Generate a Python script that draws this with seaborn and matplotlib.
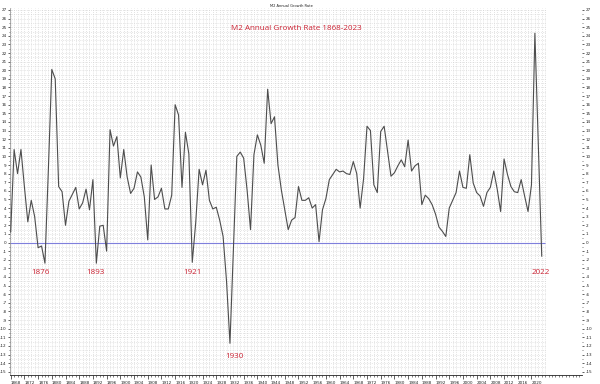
import numpy as np
import pandas as pd
import matplotlib
matplotlib.use("Agg")
import matplotlib.pyplot as plt
import seaborn as sns
from matplotlib.ticker import FixedLocator, MultipleLocator

# ---------------- data ----------------
years = list(range(1868, 2024))
growth = [
    1.2, 10.8, 8.0, 10.8, 6.5, 2.4, 4.9, 3.0, -0.6, -0.4,      # 1868-1877
    -2.4, 8.5, 20.1, 19.0, 6.5, 5.9, 2.0, 4.8, 5.6, 6.4,       # 1878-1887
    3.9, 4.6, 6.2, 3.8, 7.3, -2.4, 1.9, 2.0, -1.0, 13.1,       # 1888-1897
    11.2, 12.3, 7.5, 10.8, 7.6, 5.7, 6.3, 8.2, 7.6, 5.3,       # 1898-1907
    0.3, 9.0, 5.0, 5.3, 6.3, 3.9, 3.9, 5.5, 16.0, 14.8,        # 1908-1917
    6.4, 12.8, 10.3, -2.3, 2.3, 8.5, 6.7, 8.4, 4.9, 3.9,       # 1918-1927
    4.1, 2.6, 0.7, -4.5, -11.7, -1.0, 10.0, 10.5, 9.8, 6.1,    # 1928-1937
    1.5, 10.2, 12.5, 11.3, 9.2, 17.8, 13.8, 14.6, 9.0, 6.1,    # 1938-1947
    3.8, 1.5, 2.6, 2.9, 6.5, 4.9, 4.9, 5.2, 4.0, 4.4,          # 1948-1957
    0.1, 3.8, 5.1, 7.3, 7.9, 8.5, 8.2, 8.3, 8.0, 7.9,          # 1958-1967
    9.4, 8.0, 4.0, 7.4, 13.5, 13.0, 6.7, 5.8, 12.9, 13.5,      # 1968-1977
    10.6, 7.7, 8.1, 8.9, 9.6, 8.8, 11.9, 8.3, 8.9, 9.2,        # 1978-1987
    4.4, 5.5, 5.1, 4.4, 3.3, 1.8, 1.3, 0.7, 4.0, 4.9,          # 1988-1997
    5.8, 8.3, 6.4, 6.3, 10.2, 6.9, 5.8, 5.4, 4.2, 5.8,         # 1998-2007
    6.4, 8.3, 6.2, 3.6, 9.7, 7.9, 6.5, 5.9, 5.8, 7.3,          # 2008-2017
    5.4, 3.6, 6.7, 24.3, 11.4, -1.6,                           # 2018-2023
]
tick_years = list(range(1868, 2024, 4))
ytick_vals = list(range(-15, 28))
title_small = "M2 Annual Growth Rate"
title_red = "M2 Annual Growth Rate 1868-2023"
ann_labels = ["1876", "1893", "1921", "1930", "2022"]
ann_x = [1876.7, 1892.9, 1921.2, 1933.2, 2022.6]
ann_y = [-3.5, -3.5, -3.5, -13.2, -3.5]

df = pd.DataFrame({"year": years, "growth": growth})

# ---------------- style ----------------
sns.set_theme(style="white")
plt.rcParams["font.family"] = ["DejaVu Sans"]

RED = "#cc2233"
GRID = "#c8c8c8"

fig = plt.figure(figsize=(6, 3.84), dpi=100)
fig.patch.set_facecolor("white")
ax = fig.add_axes([10 / 600, 9 / 384, 572 / 600, 367 / 384])
ax.set_facecolor("white")

x0, x1 = 1867.8, 2034.75
y0, y1 = -15.38, 27.23
ax.set_xlim(x0, x1)
ax.set_ylim(y0, y1)

grid_end = 2024.0
ax.vlines(np.arange(1868, 2025), y0, y1, colors=GRID,
          linestyles=(0, (1, 2)), linewidth=0.5, zorder=0)
ax.hlines(np.arange(-15, 27.5, 0.5), x0, grid_end, colors=GRID,
          linestyles=(0, (1, 2)), linewidth=0.45, zorder=0)
ax.hlines(0, x0, grid_end, colors="#7f7fdc", linewidth=0.8, zorder=1)

sns.lineplot(data=df, x="year", y="growth", ax=ax, color="#4d4d4d",
             linewidth=0.8, zorder=3)
ax.set_xlabel("")
ax.set_ylabel("")

# ticks
ax.xaxis.set_major_locator(FixedLocator(tick_years))
ax.xaxis.set_minor_locator(MultipleLocator(1))
ax.set_xticklabels([str(t) for t in tick_years], fontsize=3, ha="left")
ax.yaxis.set_major_locator(FixedLocator(ytick_vals))
ax.yaxis.set_minor_locator(MultipleLocator(0.5))
ax.set_yticklabels([str(v) for v in ytick_vals], fontsize=3)
ax.tick_params(axis="x", which="major", direction="out", length=3, width=0.5,
               pad=1, colors="#222222", bottom=True)
ax.tick_params(axis="x", which="minor", direction="out", length=1.5, width=0.4,
               bottom=True, colors="#222222")
ax.tick_params(axis="y", which="major", direction="out", length=1.5, width=0.5,
               pad=1, colors="#222222", left=True, right=True,
               labelleft=True, labelright=True)
ax.tick_params(axis="y", which="minor", direction="out", length=1, width=0.4,
               left=True, right=True, colors="#222222")

for side in ["top", "right"]:
    ax.spines[side].set_visible(False)
ax.spines["left"].set_color("#888888")
ax.spines["left"].set_linewidth(0.5)
ax.spines["bottom"].set_color("#222222")
ax.spines["bottom"].set_linewidth(0.6)

# titles
fig.text(291 / 600, 1 - 6 / 384, title_small, fontsize=2.6, ha="center",
         va="center", color="#222222")
fig.text(296 / 600, 1 - 28 / 384, title_red, fontsize=5.8, ha="center",
         va="center", color=RED, family=["Open Sans", "DejaVu Sans"])

for lab, xx, yy in zip(ann_labels, ann_x, ann_y):
    ax.text(xx, yy, lab, fontsize=5.8, ha="center", va="center", color=RED,
            family=["Open Sans", "DejaVu Sans"])

fig.savefig("out.png", dpi=100, facecolor="white")
